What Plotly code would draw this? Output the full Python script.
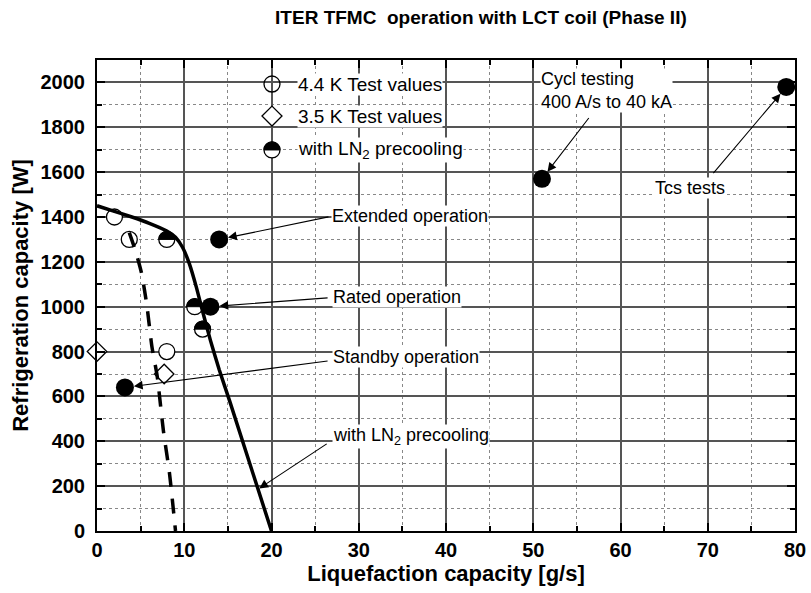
import plotly.graph_objects as go

# ---- data ----
solid_x = [0, 2, 4, 6, 8, 9, 9.8, 10.6, 11.4, 12.2, 13, 14, 15.2, 20]
solid_y = [1450, 1425, 1400, 1372, 1338, 1310, 1265, 1190, 1085, 965, 850, 720, 580, 0]

dashed_x = [3.7, 4.4, 5.1, 5.7, 6.3, 6.9, 7.6, 8.3, 9.0]
dashed_y = [1330, 1250, 1150, 1010, 820, 690, 450, 260, 0]

k44_x = [2, 3.7, 8]          # 4.4 K test values (open circles)
k44_y = [1400, 1300, 800]

k35_x = [0, 7.7]             # 3.5 K test values (diamonds)
k35_y = [800, 700]

ln2_x = [8, 11.2, 12.1]      # with LN2 precooling (half filled)
ln2_y = [1300, 1000, 900]

full_x = [3.2, 13, 14, 51, 79]   # filled circles
full_y = [640, 1000, 1300, 1570, 1980]

legend_labels = ["4.4 K Test values", "3.5 K Test values", "with LN<sub>2</sub> precooling"]

# annotations: (text, x, y)
notes = [
    ("Extended operation", 26.8, 1406),
    ("Rated operation", 26.9, 1045),
    ("Standby operation", 26.9, 777),
    ("with LN<sub>2</sub> precooling", 26.9, 420),
    ("Cycl testing<br>400 A/s to 40 kA", 50.8, 1962),
    ("Tcs tests", 63.8, 1531),
]
# arrows: head (x, y), tail (ax, ay), standoff
arrows = [
    (14, 1300, 26.7, 1402, 9),
    (13, 1000, 26.6, 1040, 9),
    (3.2, 640, 26.6, 759, 9),
    (18.6, 190, 26.5, 393, 0),
    (51, 1570, 56.5, 1848, 9),
    (79, 1980, 70.5, 1589, 9),
]

FONT = "Liberation Sans, Arial, sans-serif"

fig = go.Figure()

fig.add_trace(go.Scatter(x=k44_x, y=k44_y, mode="markers", cliponaxis=False,
                         marker=dict(symbol="circle", size=16, color="white",
                                     line=dict(color="black", width=1.3)),
                         showlegend=False))
fig.add_trace(go.Scatter(x=k35_x, y=k35_y, mode="markers", cliponaxis=False,
                         marker=dict(symbol="diamond", size=15, color="white",
                                     line=dict(color="black", width=1.3)),
                         showlegend=False))
fig.add_trace(go.Scatter(x=ln2_x, y=ln2_y, mode="markers", cliponaxis=False,
                         marker=dict(symbol="circle", size=16, color="white",
                                     line=dict(color="black", width=1.3)),
                         showlegend=False))
fig.add_trace(go.Scatter(x=full_x, y=full_y, mode="markers", cliponaxis=False,
                         marker=dict(symbol="circle", size=18, color="black"),
                         showlegend=False))
fig.add_trace(go.Scatter(x=solid_x, y=solid_y, mode="lines",
                         line=dict(color="black", width=3.5, shape="spline", smoothing=0.5),
                         showlegend=False))
fig.add_trace(go.Scatter(x=dashed_x, y=dashed_y, mode="lines",
                         line=dict(color="black", width=3.5, dash="15px,12px", shape="spline", smoothing=0.6),
                         showlegend=False))

R = 8
k = 0.5523 * R
top_half = f"M{-R},0 C{-R},{k} {-k},{R} 0,{R} C{k},{R} {R},{k} {R},0 Z"

shapes = []
for hx, hy in zip(ln2_x, ln2_y):
    shapes.append(dict(type="path", xref="x", yref="y", xsizemode="pixel", ysizemode="pixel",
                       xanchor=hx, yanchor=hy, path=top_half,
                       fillcolor="black", line=dict(color="black", width=1)))

# manual legend
leg_x = 0.2507
leg_tx = 0.2865
leg_y = [0.949, 0.881, 0.809]
circ = f"M{-R},0 C{-R},{k} {-k},{R} 0,{R} C{k},{R} {R},{k} {R},0 C{R},{-k} {k},{-R} 0,{-R} C{-k},{-R} {-R},{-k} {-R},0 Z"
diam = "M-10,0 L0,10 L10,0 L0,-10 Z"
for path, yy, fill in [(circ, leg_y[0], "rgba(0,0,0,0)"), (diam, leg_y[1], "white"), (circ, leg_y[2], "white")]:
    shapes.append(dict(type="path", xref="paper", yref="paper", xsizemode="pixel", ysizemode="pixel",
                       xanchor=leg_x, yanchor=yy, path=path, fillcolor=fill,
                       line=dict(color="black", width=1.3)))
shapes.append(dict(type="path", xref="paper", yref="paper", xsizemode="pixel", ysizemode="pixel",
                   xanchor=leg_x, yanchor=leg_y[2], path=top_half, fillcolor="black",
                   line=dict(color="black", width=1)))

annotations = []
for lab, yy in zip(legend_labels, leg_y):
    annotations.append(dict(text=lab, xref="paper", yref="paper", x=leg_tx, y=yy,
                            xanchor="left", yanchor="middle", showarrow=False,
                            bgcolor="white", borderpad=0,
                            font=dict(family=FONT, size=19, color="black")))
for txt, tx, ty in notes:
    annotations.append(dict(text=txt, xref="x", yref="y", x=tx, y=ty,
                            xanchor="left", yanchor="middle", align="left", showarrow=False,
                            bgcolor="white", borderpad=0,
                            font=dict(family=FONT, size=18, color="black")))
for hx, hy, ax, ay, so in arrows:
    annotations.append(dict(text="", xref="x", yref="y", x=hx, y=hy, axref="x", ayref="y",
                            ax=ax, ay=ay, showarrow=True, arrowhead=2, arrowsize=1.6,
                            arrowwidth=1.1, arrowcolor="black", standoff=so))

axis_common = dict(
    showline=True, linecolor="black", linewidth=2, mirror="allticks",
    ticks="inside", ticklen=8, tickwidth=1.5, tickcolor="black",
    showgrid=True, gridcolor="#555", gridwidth=1.5, automargin=False,
    tickfont=dict(family=FONT, size=20, color="black", weight="bold"),
    zeroline=False,
)

fig.update_layout(
    width=811, height=593,
    margin=dict(l=97, r=16, t=60, b=62),
    paper_bgcolor="white", plot_bgcolor="white",
    title=dict(text="ITER TFMC \u00a0operation with LCT coil (Phase II)",
               x=0.593, xanchor="center", y=0.971, yanchor="middle", yref="container",
               font=dict(family=FONT, size=19, color="black", weight="bold")),
    xaxis=dict(range=[0, 80], dtick=10, tick0=0,
               minor=dict(dtick=5, ticks="inside", ticklen=5, tickcolor="black",
                          showgrid=True, gridcolor="#888", griddash="dot", gridwidth=1),
               title=dict(text="Liquefaction capacity [g/s]", standoff=4,
                          font=dict(family=FONT, size=22, color="black", weight="bold")),
               **axis_common),
    yaxis=dict(range=[0, 2100], dtick=200, tick0=0, ticklabelstandoff=6,
               minor=dict(dtick=100, ticks="inside", ticklen=5, tickcolor="black",
                          showgrid=True, gridcolor="#888", griddash="dot", gridwidth=1),
               title=dict(text="Refrigeration capacity [W]", standoff=6,
                          font=dict(family=FONT, size=22, color="black", weight="bold")),
               **axis_common),
    shapes=shapes,
    annotations=annotations,
    showlegend=False,
)

fig.write_html("out.html", config={"displayModeBar": False},
               post_script="document.body.style.margin='0';")
